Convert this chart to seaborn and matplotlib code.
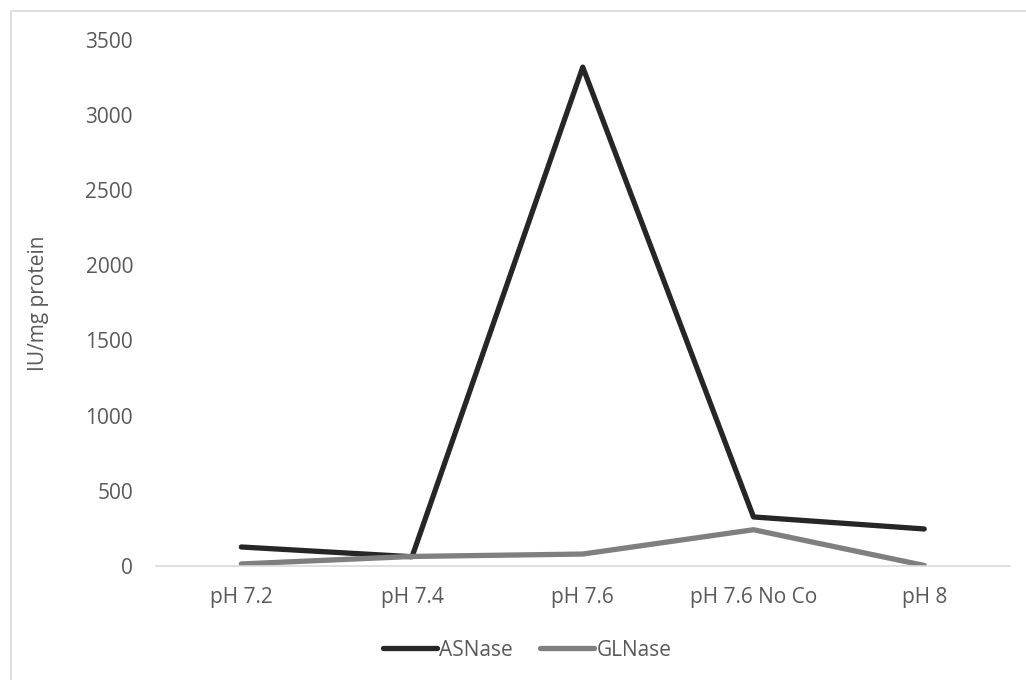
import matplotlib
matplotlib.use("Agg")
import matplotlib.pyplot as plt
from matplotlib.lines import Line2D
import seaborn as sns
import pandas as pd

# pH conditions and measured specific activities
conditions = ["pH 7.2", "pH 7.4", "pH 7.6", "pH 7.6 No Co", "pH 8"]
asnase = [125, 60, 3320, 325, 245]
glnase = [12, 62, 78, 240, 2]

df = pd.DataFrame({
    "condition": conditions * 2,
    "activity": asnase + glnase,
    "enzyme": ["ASNase"] * len(conditions) + ["GLNase"] * len(conditions),
})

sns.set_theme(style="white")
plt.rcParams["font.family"] = ["Open Sans", "DejaVu Sans"]

text_color = "#595959"
fs = 15
palette = {"ASNase": "#262626", "GLNase": "#7f7f7f"}

fig = plt.figure(figsize=(10.26, 6.8), dpi=100)
ax = fig.add_axes([0.152, 0.168, 0.832, 0.773])

x_pos = {c: i + 0.5 for i, c in enumerate(conditions)}
df["x"] = df["condition"].map(x_pos)

sns.lineplot(data=df, x="x", y="activity", hue="enzyme", palette=palette,
             linewidth=3.8, ax=ax, legend=False, sort=False,
             solid_capstyle="round", solid_joinstyle="round")

ax.set_xlim(0, len(conditions))
ax.set_ylim(0, 3500)
ax.set_yticks(range(0, 3501, 500))
ax.set_xticks([x_pos[c] for c in conditions])
ax.set_xticklabels(conditions)
ax.tick_params(axis="both", length=0, labelsize=fs, colors=text_color)
ax.tick_params(axis="y", pad=16.5)
ax.tick_params(axis="x", pad=15.5)

for side in ["top", "right", "left"]:
    ax.spines[side].set_visible(False)
ax.spines["bottom"].set_color("#d9d9d9")
ax.spines["bottom"].set_linewidth(1.2)

ax.set_xlabel("")
ax.set_ylabel("IU/mg protein", fontsize=fs, color=text_color, labelpad=26)

handles = [Line2D([0], [0], color=palette[k], lw=3.8, solid_capstyle="round")
           for k in ["ASNase", "GLNase"]]
fig.legend(handles, ["ASNase", "GLNase"], loc="center", bbox_to_anchor=(0.514, 0.044),
           ncol=2, frameon=False, fontsize=fs, labelcolor=text_color,
           handlelength=2.6, handletextpad=0.1, columnspacing=1.3)

# light frame along the top and left of the chart area
fig.add_artist(Line2D([11 / 1026, 11 / 1026, 1.0], [0.0, 1 - 11 / 680, 1 - 11 / 680],
                      transform=fig.transFigure, color="#d9d9d9", lw=1.2))

fig.savefig("out.png", dpi=100)
